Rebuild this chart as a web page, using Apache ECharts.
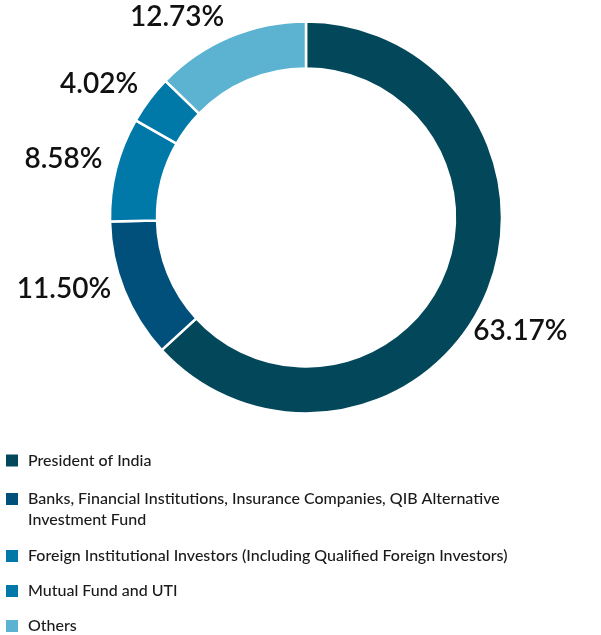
<!DOCTYPE html>
<html>
<head>
<meta charset="utf-8">
<script src="https://cdn.jsdelivr.net/npm/echarts@6/dist/echarts.min.js"></script>
<style>
  html, body { margin: 0; padding: 0; background: #ffffff; }
  #chart { width: 601px; height: 635px; }
</style>
</head>
<body>
<div id="chart"></div>
<script>
// Shareholding pattern
const categories = [
  'President of India',
  'Banks, Financial Institutions, Insurance Companies, QIB Alternative Investment Fund',
  'Foreign Institutional Investors (Including Qualified Foreign Investors)',
  'Mutual Fund and UTI',
  'Others'
];
const shares = [63.17, 11.50, 8.58, 4.02, 12.73];
const sliceColors = ['#03485A', '#014F7B', '#0079A9', '#0079A9', '#5BB3D1'];

const chart = echarts.init(document.getElementById('chart'), null, { renderer: 'canvas' });

const pieData = categories.map((name, i) => ({
  name: name,
  value: shares[i],
  itemStyle: { color: sliceColors[i] }
}));

const legendText = {
  fontFamily: 'Lato',
  fontSize: 16,
  fontWeight: 500,
  color: '#1a1a1a',
  lineHeight: 21,
  padding: [0, 0, 0, 5]
};

// shared settings for the stacked legend blocks
function legendBlock(top, gap, names, extra) {
  return Object.assign({
    orient: 'vertical',
    left: 6,
    top: top,
    height: 160,
    padding: 0,
    itemWidth: 12,
    itemHeight: 12,
    itemGap: gap,
    icon: 'rect',
    itemStyle: { borderWidth: 0 },
    selectedMode: false,
    textStyle: legendText,
    data: names
  }, extra || {});
}

chart.setOption({
  animation: false,
  legend: [
    legendBlock(450, 14, [categories[0]]),
    // two-line entry: a tall icon box whose square sits at the top,
    // so the marker lines up with the first text line
    legendBlock(488.5, 14, [
      { name: categories[1], textStyle: { width: 500, overflow: 'break' } }
    ], {
      itemHeight: 33,
      icon: 'path://M0,0H12V12H0Z M0,33H0.01V33.01H0Z'
    }),
    legendBlock(545.5, 14, [categories[2], categories[3], categories[4]])
  ],
  series: [
    {
      type: 'pie',
      center: [306, 217.5],
      radius: [149, 196],
      startAngle: 90,
      clockwise: true,
      avoidLabelOverlap: true,
      itemStyle: { borderColor: '#ffffff', borderWidth: 2.5 },
      emphasis: { disabled: true },
      label: {
        show: true,
        position: 'outside',
        formatter: (p) => p.value.toFixed(2) + '%',
        fontFamily: 'Lato',
        fontSize: 28,
        fontWeight: 600,
        color: '#111111',
        width: 130,
        overflow: 'none',
        distanceToLabelLine: 0
      },
      labelLine: { show: false, length: 14, length2: 0 },
      // the large slice's label sits lower, tucked against the ring
      labelLayout: (p) => (p.dataIndex === 0 ? { dx: -25, dy: 29 } : { dy: -7 }),
      data: pieData
    }
  ]
});
</script>
</body>
</html>
